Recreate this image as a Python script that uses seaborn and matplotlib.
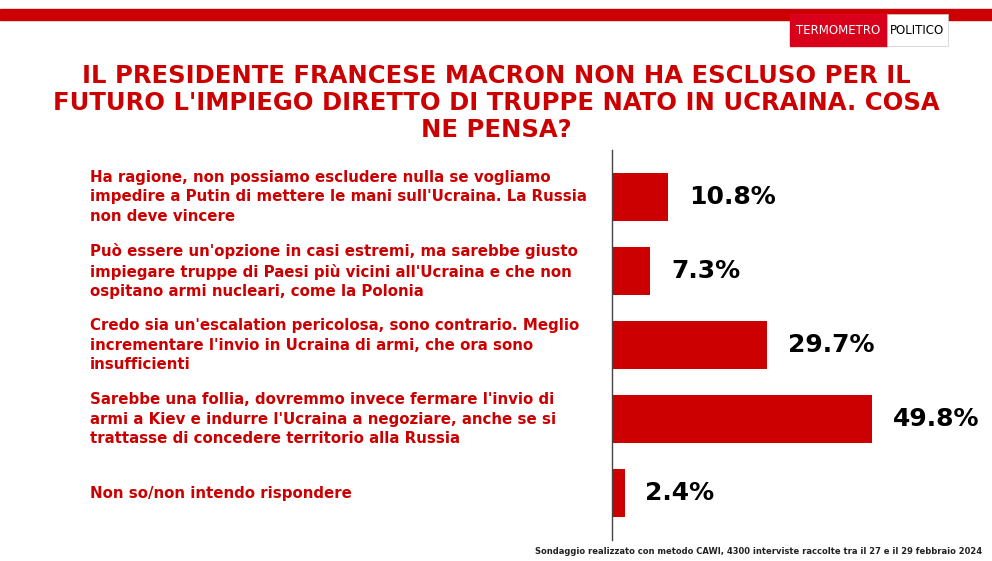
import matplotlib
matplotlib.use("Agg")
import matplotlib.pyplot as plt
import seaborn as sns
import pandas as pd
from matplotlib.patches import Rectangle

# Data
risposte = [
    "Ha ragione, non possiamo escludere nulla se vogliamo\nimpedire a Putin di mettere le mani sull'Ucraina. La Russia\nnon deve vincere",
    "Può essere un'opzione in casi estremi, ma sarebbe giusto\nimpiegare truppe di Paesi più vicini all'Ucraina e che non\nospitano armi nucleari, come la Polonia",
    "Credo sia un'escalation pericolosa, sono contrario. Meglio\nincrementare l'invio in Ucraina di armi, che ora sono\ninsufficienti",
    "Sarebbe una follia, dovremmo invece fermare l'invio di\narmi a Kiev e indurre l'Ucraina a negoziare, anche se si\ntrattasse di concedere territorio alla Russia",
    "Non so/non intendo rispondere",
]
percentuali = [10.8, 7.3, 29.7, 49.8, 2.4]
df = pd.DataFrame({"risposta": risposte, "pct": percentuali})

RED = "#cc0000"
W, H = 992, 561
fig = plt.figure(figsize=(W / 100, H / 100), dpi=100)
fig.patch.set_facecolor("white")

# top red band and logo
fig.add_artist(Rectangle((0, 1 - 20 / H), 1, 11 / H, transform=fig.transFigure, color=RED))
fig.add_artist(Rectangle((790 / W, 1 - 46 / H), 97 / W, 32 / H, transform=fig.transFigure, color="#d8001a"))
fig.add_artist(Rectangle((887 / W, 1 - 46 / H), 61 / W, 32 / H, transform=fig.transFigure, color="white",
                         ec="#cccccc", lw=0.5))
fig.text(838 / W, 1 - 31 / H, "TERMOMETRO", color="white", fontsize=8.5, ha="center", va="center")
fig.text(917 / W, 1 - 31 / H, "POLITICO", color="black", fontsize=8.5, ha="center", va="center")

# title
fig.text(0.5, 1 - 103 / H,
         "IL PRESIDENTE FRANCESE MACRON NON HA ESCLUSO PER IL\nFUTURO L'IMPIEGO DIRETTO DI TRUPPE NATO IN UCRAINA. COSA\nNE PENSA?",
         color=RED, fontsize=17.5, fontweight="bold", ha="center", va="center", linespacing=1.15)

# bars axis
ax = fig.add_axes([612 / W, 1 - 540 / H, 380 / W, 390 / H])
sns.barplot(data=df, x="pct", y="risposta", color=RED, width=0.65, ax=ax, saturation=1, orient="h")
ax.set_xlim(0, 380 / 5.22)
ax.set_ylim(4.635, -0.635)
ax.set_xlabel("")
ax.set_ylabel("")
ax.set_xticks([])
ax.set_yticks([])
for s in ["top", "right", "bottom"]:
    ax.spines[s].set_visible(False)
ax.spines["left"].set_color("#444444")
ax.spines["left"].set_linewidth(1)
ax.patch.set_alpha(0)

for i, v in enumerate(percentuali):
    ax.text(v + 4, i, f"{v:.1f}%", va="center", ha="left", fontsize=18, fontweight="bold", color="black")
    ax.text(-(612 - 90) / 5.22, i, risposte[i], va="center", ha="left", fontsize=10.8,
            fontweight="bold", color=RED, linespacing=1.35, clip_on=False)

fig.text(982 / W, 1 - 551 / H,
         "Sondaggio realizzato con metodo CAWI, 4300 interviste raccolte tra il 27 e il 29 febbraio 2024",
         fontsize=6, fontweight="bold", ha="right", va="center", color="#222222")

fig.savefig("out.png", dpi=100)
